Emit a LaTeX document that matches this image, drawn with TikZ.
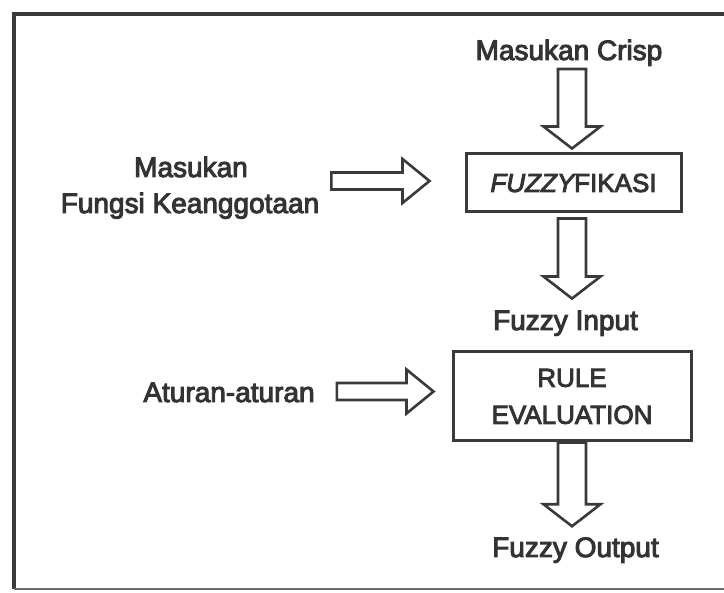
\documentclass[tikz,border=0pt]{standalone}
\usepackage{fontspec}
\newfontfamily\dfont{Liberation Sans}[FakeBold=3.5]
\usetikzlibrary{calc}
\definecolor{ink}{HTML}{333333}
\definecolor{edge}{HTML}{3A3A3A}

% hollow block arrows: #1 = tail point, #2 = tip point
\newcommand\blkdown[2]{%
  \draw[blk] ($(#1)+(-14,0)$) -- ($(#2)+(-14,-22)$) -- ($(#2)+(-28.5,-22)$)
    -- (#2) -- ($(#2)+(28.5,-22)$) -- ($(#2)+(14,-22)$) -- ($(#1)+(14,0)$) -- cycle;}
\newcommand\blkright[2]{%
  \draw[blk] ($(#1)+(0,-8.5)$) -- ($(#2)+(-27,-8.5)$) -- ($(#2)+(-27,-22)$)
    -- (#2) -- ($(#2)+(-27,22)$) -- ($(#2)+(-27,8.5)$) -- ($(#1)+(0,8.5)$) -- cycle;}

\begin{document}
\begin{tikzpicture}[x=1pt,y=-1pt,
  lbl/.style={font=\dfont\fontsize{28}{34}\selectfont, text=ink, inner sep=0pt, anchor=base},
  procbox/.style={draw=edge, line width=3pt, inner sep=0pt, text=ink, align=center,
                  font=\dfont\fontsize{26}{37}\selectfont},
  blk/.style={draw=edge, line width=2.6pt, fill=white, line join=miter},
  frame/.style={draw=edge, line width=3.5pt}]
\useasboundingbox (0,0) rectangle (724,593);
\fill[white] (0,0) rectangle (724,593);

% outer frame (runs past the right edge)
\begin{scope}
  \clip (0,0) rectangle (724,593);
  \draw[frame] (740,14) -- (14,14) -- (14,589);
  \draw[draw=edge!75, line width=2.5pt] (14,589) -- (740,589);
\end{scope}

% process boxes
\node[procbox, minimum width=215, minimum height=58] (fz) at (573.5,183)
  {{\itshape FUZZY}FIKASI};
\node[procbox, minimum width=238, minimum height=89] (re) at (572,396.5)
  {RULE\\EVALUATION};

% labels
\node[lbl] (crisp) at (569,60)    {Masukan Crisp};
\node[lbl] (mk1)   at (191,177)   {Masukan};
\node[lbl] (mk2)   at (190,213)   {Fungsi Keanggotaan};
\node[lbl] (fin)   at (565.5,330) {Fuzzy Input};
\node[lbl] (fout)  at (575.5,557) {Fuzzy Output};
\node[lbl] (atr)   at (229,402)   {Aturan-aturan};

% arrow end points
\coordinate (a1e) at ($(fz.north)+(-1.5,-4)$);
\coordinate (a1s) at ($(a1e |- crisp.south)+(0,3)$);
\coordinate (a2s) at ($(fz.south)+(-1.5,5)$);
\coordinate (a2e) at ($(a2s |- fin.north)+(0,-12)$);
\coordinate (a3s) at (re.south);
\coordinate (a3e) at ($(a3s |- fout.north)+(0,-11)$);
\coordinate (a4e) at ($(fz.west)+(-35,-2)$);
\coordinate (a4s) at ($(mk2.east |- a4e)+(12,0)$);
\coordinate (a5e) at ($(re.west)+(-18,-5)$);
\coordinate (a5s) at ($(atr.east |- a5e)+(22,0)$);

% block arrows
\blkdown{a1s}{a1e}
\blkdown{a2s}{a2e}
\blkdown{a3s}{a3e}
\blkright{a4s}{a4e}
\blkright{a5s}{a5e}
\end{tikzpicture}
\end{document}
